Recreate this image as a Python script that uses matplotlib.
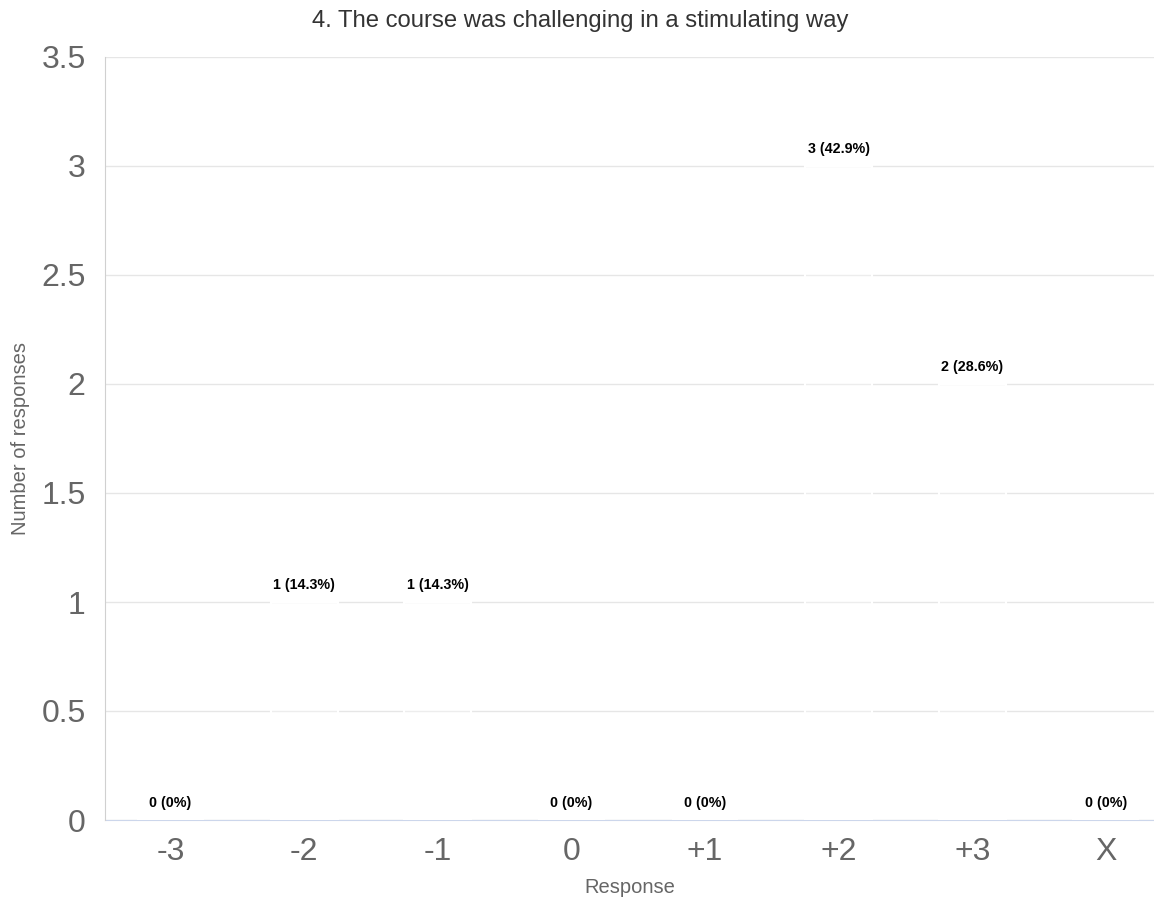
import matplotlib.pyplot as plt
import numpy as np

plt.rcParams['font.family'] = ['Liberation Sans', 'DejaVu Sans']

# Survey answers for question 4
categories = ["-3", "-2", "-1", "0", "+1", "+2", "+3", "X"]
counts = [0, 1, 1, 0, 0, 3, 2, 0]
percents = ["0%", "14.3%", "14.3%", "0%", "0%", "42.9%", "28.6%", "0%"]
yticks = [0, 0.5, 1, 1.5, 2, 2.5, 3, 3.5]
yticklabels = ["0", "0.5", "1", "1.5", "2", "2.5", "3", "3.5"]

fig = plt.figure(figsize=(11.54, 9.02), dpi=100)
ax = fig.add_axes([105 / 1154, 1 - 820 / 902, 1049 / 1154, 763 / 902])

x = np.arange(len(categories))
ax.bar(x, counts, width=0.5, color=(1, 1, 1, 0.3), edgecolor='white', linewidth=1.5, zorder=3)

for xi, c, p in zip(x, counts, percents):
    ax.annotate(f"{c} ({p})", (xi, c), xytext=(0, 7), textcoords='offset points',
                ha='center', va='bottom', fontsize=10.3, fontweight='bold', color='black', zorder=4)

ax.set_xlim(-0.49, 7.36)
ax.set_ylim(0, 3.5)
ax.set_xticks(x)
ax.set_xticklabels(categories)
ax.set_yticks(yticks)
ax.set_yticklabels(yticklabels)
ax.tick_params(axis='both', length=0, labelsize=23, labelcolor='#666666')
ax.tick_params(axis='x', pad=12)
ax.tick_params(axis='y', pad=14)

ax.grid(axis='y', color='#e6e6e6', linewidth=1, zorder=0)
ax.set_axisbelow(True)
for side in ['top', 'right']:
    ax.spines[side].set_visible(False)
ax.spines['left'].set_color('#d0d0d0')
ax.spines['bottom'].set_color('#ccd6eb')
ax.spines['bottom'].set_zorder(2)

ax.set_xlabel("Response", fontsize=14.5, color='#666666', labelpad=8)
ax.set_ylabel("Number of responses", fontsize=14.5, color='#666666')
ax.yaxis.set_label_coords(-75 / 1049, 0.5)
fig.text(580 / 1154, 1 - 21 / 902, "4. The course was challenging in a stimulating way",
         ha='center', va='center', fontsize=17.2, color='#333333')

fig.savefig("out.png", dpi=100)
